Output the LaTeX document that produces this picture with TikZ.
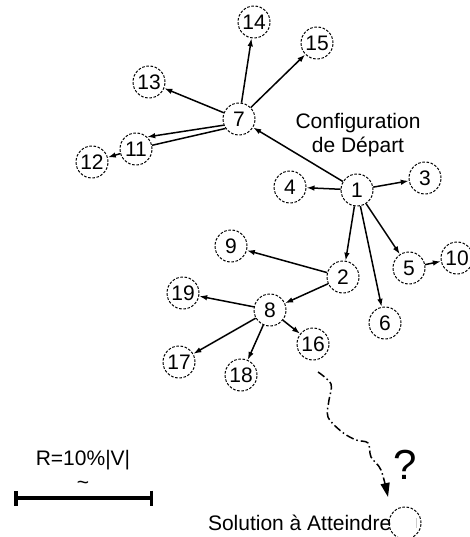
\documentclass[tikz,border=0pt]{standalone}
\usepackage{fontspec}
\setmainfont{Liberation Sans}
\usepackage{tikz}
\usetikzlibrary{arrows.meta,positioning}

\begin{document}
\begin{tikzpicture}[x=1pt, y=-1pt,
    config/.style={circle, draw, dash pattern=on 2.6pt off 1.6pt, line width=1pt, minimum size=32pt, inner sep=0pt, font=\fontsize{21}{21}\selectfont},
    arrow/.style={-{Latex[length=8pt,width=5.5pt]}, line width=1.5pt},
    trail/.style={-{Triangle[length=14pt,width=9pt]}, line width=1.5pt, dash pattern=on 8pt off 3pt on 1.5pt off 3pt},
    caption/.style={inner sep=0pt, font=\fontsize{21}{24}\selectfont}
]
    \useasboundingbox (0,0) rectangle (470,537);

    % Configurations
    \node[config] (v1) at (357,190) {1};
    \node[config] (v2) at (343,277) {2};
    \node[config] (v3) at (425,178) {3};
    \node[config] (v4) at (290,187) {4};
    \node[config] (v5) at (409,268) {5};
    \node[config] (v6) at (385,323) {6};
    \node[config] (v7) at (239,119) {7};
    \node[config] (v8) at (270,310) {8};
    \node[config] (v9) at (231,246) {9};
    \node[config] (v10) at (457,258) {10};
    \node[config] (v11) at (136,149) {11};
    \node[config] (v12) at (92,162) {12};
    \node[config] (v13) at (149,82) {13};
    \node[config] (v14) at (254,22) {14};
    \node[config] (v15) at (317,43) {15};
    \node[config] (v16) at (313,344) {16};
    \node[config] (v17) at (179,362) {17};
    \node[config] (v18) at (241,375) {18};
    \node[config] (v19) at (183,293) {19};

    % Start label
    \node[caption, align=center] (start) at (358,135) {Configuration\\de Départ};

    % Neighbours of 1
    \draw[arrow] (v1) -- (v7);
    \draw[arrow] (v1) -- (v4);
    \draw[arrow] (v1) -- (v3);
    \draw[arrow] (v1) -- (v2);
    \draw[arrow] (v1) -- (v6);
    \draw[arrow] (v1) -- (v5);
    \draw[arrow] (v5) -- (v10);

    % Neighbours of 2 and 8
    \draw[arrow] (v2) -- (v9);
    \draw[arrow] (v2) -- (v8);
    \draw[arrow] (v8) -- (v19);
    \draw[arrow] (v8) -- (v17);
    \draw[arrow] (v8) -- (v18);
    \draw[arrow] (v8) -- (v16);

    % Neighbours of 7
    \draw[arrow] (v7) -- (v13);
    \draw[arrow] (v7) -- (v14);
    \draw[arrow] (v7) -- (v15);
    \draw[arrow] (v7.202) -- (v11.47);
    \draw[line width=1.5pt] (v11.13) -- (v7.215);
    \draw[arrow] (v11) -- (v12);

    % Target
    \node[config] (goal) at (405,523) {};
    \draw[gray!40, line width=0.8pt] ([xshift=11pt, yshift=-5pt]goal.center) -- ([xshift=11pt, yshift=5pt]goal.center);
    \node[caption, left=-3pt of goal] (aim) {Solution à Atteindre};
    \node[caption, font=\fontsize{42}{42}\selectfont] (ask) at (405,465) {?};

    % Search path
    \coordinate (leave) at (318,372);
    \coordinate (reach) at (388,497);
    \draw[trail] plot[smooth, tension=0.55] coordinates {(leave) (331,384) (329,400) (328,417) (342,432) (356,440) (368,443) (371,457) (381,470) (388,497)};

    % Radius
    \coordinate (barL) at (14,498);
    \coordinate (barR) at (153,498);
    \draw[{Bar[width=15pt]}-{Bar[width=15pt]}, line width=3.5pt] (barL) -- (barR);
    \node[caption] (ratio) at (83,460) {R=10\%|V|};
    \node[caption] (approx) at (83,485) {\textasciitilde};
\end{tikzpicture}
\end{document}
